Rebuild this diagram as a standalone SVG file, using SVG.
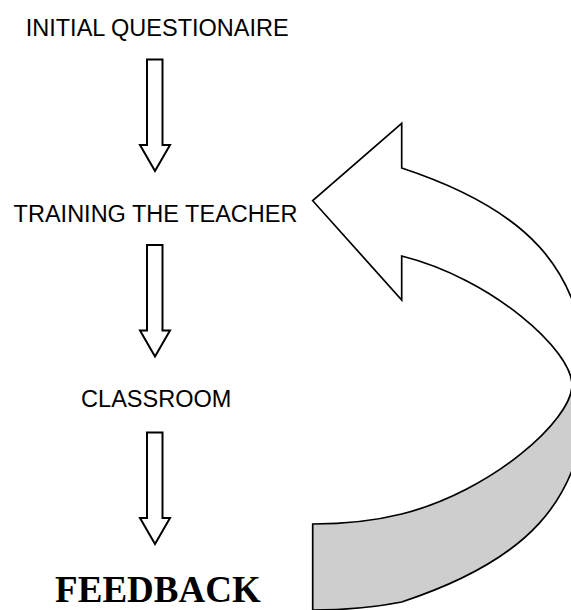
<svg xmlns="http://www.w3.org/2000/svg" width="571" height="610" viewBox="0 0 571 610">
<style>
.lbl{font-family:"Liberation Sans",Arial,sans-serif;font-size:23.5px;fill:#000;text-anchor:middle}
.big{font-family:"Liberation Serif","Times New Roman",serif;font-size:37px;font-weight:bold;fill:#000;text-anchor:middle}
.down{fill:#fff;stroke:#000;stroke-width:2;stroke-linejoin:miter}
.curve{stroke:#000;stroke-width:1.7;stroke-linejoin:miter}
</style>
<defs>
<path id="dn" d="M147,0 L162.5,0 L162.5,85.5 L170,85.5 L155,111.5 L140,85.5 L147,85.5 Z"/>
</defs>
<rect width="571" height="610" fill="#fff"/>
<g id="node-initial"><text class="lbl" x="157.2" y="36">INITIAL QUESTIONAIRE</text></g>
<g id="node-training"><text class="lbl" x="155.5" y="221.7">TRAINING THE TEACHER</text></g>
<g id="node-classroom"><text class="lbl" x="156.2" y="406.7">CLASSROOM</text></g>
<g id="node-feedback"><text class="big" x="157.9" y="601.7">FEEDBACK</text></g>
<g id="connectors">
<use href="#dn" class="down" x="0" y="59.5"/>
<use href="#dn" class="down" x="0" y="245"/>
<use href="#dn" class="down" x="0" y="432.5"/>
<path class="curve" fill="#cecece" d="M572,385 C572,420 491.7,491.5 401.7,514 C371.7,521.5 340,524 312.7,524 L312.7,610 C340,610 371.7,608 401.7,602 C520,563 587,505 587,385 Z"/>
<path class="curve" fill="#fff" d="M401.7,168 L401.7,123.3 L312.7,200.7 L401.7,300 L401.7,256 C491.7,278.5 572,350 572,385 L587,385 C587,265 520,207 401.7,168 Z"/>
</g>
</svg>
